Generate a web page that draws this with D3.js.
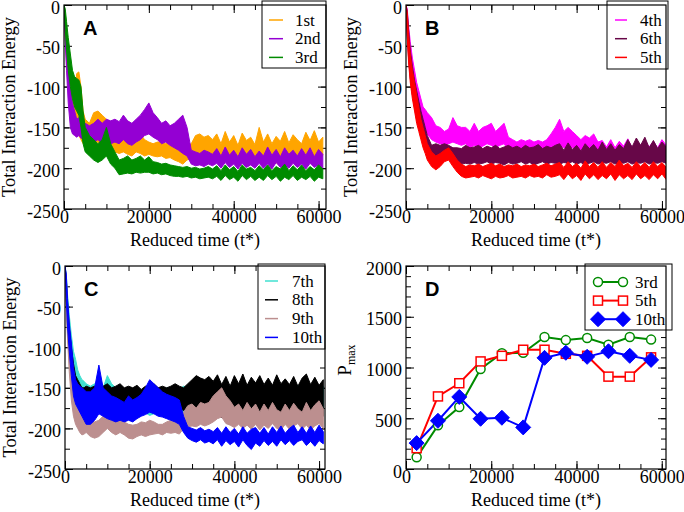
<!DOCTYPE html>
<html>
<head>
<meta charset="utf-8">
<script src="https://cdn.jsdelivr.net/npm/d3@7"></script>
<style>
  body { margin: 0; background: #fff; }
  svg { display: block; }
  .serif { font-family: "Liberation Serif", "DejaVu Serif", serif; }
  .sans { font-family: "Liberation Sans", Arial, sans-serif; }
</style>
</head>
<body>
<svg id="chart" width="684" height="512"></svg>
<script>
// time grid shared by the energy traces (reduced time t*)
const tGrid = [0, 300, 600, 1000, 1500, 2000, 2500, 3000, 3500, 4000, 4500, 5000,
  6000, 7000, 8000, 9000, 10000, 11000, 12000, 13000, 14000, 15000,
  16000, 17000, 18000, 19000, 20000, 21000, 22000, 23000, 24000, 25000,
  26000, 27000, 28000, 29000, 30000, 31000, 32000, 33000, 34000, 35000,
  36000, 37000, 38000, 39000, 40000, 41000, 42000, 43000, 44000, 45000,
  46000, 47000, 48000, 49000, 50000, 51000, 52000, 53000, 54000, 55000,
  56000, 57000, 58000, 59000, 60000, 61000];

// panel A: lower / upper envelope of each noisy trace
const lo1st = [-4,-40,-70,-100,-125,-140,-150,-155,-160,-165,-170,-172,
  -175,-170,-168,-172,-175,-178,-180,-182,-180,-183,
  -185,-180,-182,-185,-183,-185,-186,-185,-188,-187,
  -190,-192,-195,-190,-188,-185,-183,-188,-185,-188,
  -182,-193,-180,-190,-186,-194,-181,-191,-185,-189,
  -192,-183,-190,-181,-194,-186,-191,-183,-192,-185,
  -190,-182,-193,-185,-191,-184];
const hi1st = [0,-10,-35,-60,-85,-100,-105,-84,-82,-100,-130,-140,
  -145,-132,-130,-135,-140,-150,-155,-160,-158,-162,
  -165,-160,-158,-165,-168,-170,-168,-168,-170,-168,
  -170,-172,-175,-172,-170,-160,-158,-162,-160,-165,
  -158,-170,-155,-168,-160,-172,-157,-166,-162,-171,
  -150,-168,-158,-170,-161,-167,-155,-169,-159,-165,
  -170,-156,-166,-154,-168,-162];
const lo2nd = [-4,-45,-80,-120,-150,-158,-160,-162,-160,-163,-165,-168,
  -170,-168,-165,-170,-172,-170,-168,-170,-165,-170,
  -172,-168,-165,-160,-158,-162,-165,-170,-168,-172,
  -175,-178,-182,-185,-195,-197,-196,-198,-195,-197,
  -194,-200,-193,-199,-195,-201,-194,-199,-196,-200,
  -194,-200,-195,-201,-193,-199,-196,-200,-194,-199,
  -195,-201,-194,-199,-196,-200];
const hi2nd = [0,-15,-40,-70,-100,-120,-130,-140,-138,-140,-142,-145,
  -148,-145,-140,-145,-140,-142,-140,-143,-135,-142,
  -145,-140,-135,-128,-120,-132,-138,-145,-142,-148,
  -145,-140,-135,-150,-178,-180,-182,-178,-180,-183,
  -176,-185,-174,-184,-178,-186,-175,-183,-177,-186,
  -179,-185,-174,-184,-177,-186,-175,-183,-178,-185,
  -176,-184,-175,-186,-177,-183];
const lo3rd = [-4,-30,-55,-80,-100,-115,-125,-130,-135,-150,-170,-180,
  -185,-190,-193,-190,-185,-195,-200,-208,-207,-206,
  -207,-205,-206,-205,-205,-207,-206,-208,-207,-209,
  -210,-210,-211,-210,-212,-211,-213,-212,-211,-213,
  -210,-215,-209,-214,-211,-216,-209,-214,-210,-215,
  -211,-215,-209,-214,-210,-216,-211,-214,-209,-215,
  -211,-214,-210,-216,-211,-213];
const hi3rd = [0,-5,-20,-40,-60,-80,-88,-90,-92,-100,-130,-150,
  -160,-165,-170,-165,-150,-170,-180,-190,-188,-185,
  -190,-188,-185,-190,-186,-192,-193,-195,-194,-196,
  -197,-198,-199,-198,-200,-199,-201,-200,-198,-201,
  -197,-203,-196,-202,-198,-204,-196,-201,-199,-203,
  -197,-202,-196,-203,-198,-201,-195,-203,-197,-202,
  -196,-203,-198,-202,-196,-201];

// panel B
const lo4th = [-4,-35,-60,-80,-100,-115,-125,-135,-140,-148,-152,-158,
  -165,-168,-170,-172,-170,-168,-170,-172,-170,-175,
  -172,-175,-173,-170,-172,-175,-172,-170,-178,-178,
  -180,-178,-180,-179,-181,-180,-182,-178,-175,-172,
  -172,-175,-173,-175,-175,-178,-176,-178,-175,-180,
  -182,-180,-183,-181,-182,-184,-181,-183,-182,-180,
  -182,-181,-183,-180,-182,-181];
const hi4th = [0,-5,-25,-45,-65,-80,-95,-105,-115,-125,-128,-132,
  -138,-148,-150,-155,-152,-138,-148,-150,-150,-155,
  -145,-155,-150,-148,-145,-155,-150,-145,-162,-165,
  -168,-165,-167,-165,-168,-166,-168,-165,-158,-150,
  -140,-155,-150,-155,-160,-165,-160,-163,-158,-168,
  -166,-174,-165,-175,-167,-173,-164,-175,-168,-172,
  -166,-174,-167,-175,-165,-172];
const lo6th = [-4,-38,-65,-90,-110,-125,-140,-150,-160,-168,-175,-185,
  -195,-190,-188,-185,-188,-190,-193,-195,-194,-195,
  -193,-195,-194,-192,-195,-193,-194,-196,-193,-195,
  -194,-192,-195,-193,-196,-194,-192,-195,-193,-194,
  -195,-193,-194,-192,-195,-193,-196,-194,-192,-195,
  -193,-194,-192,-195,-193,-194,-192,-195,-193,-194,
  -192,-195,-193,-194,-192,-194];
const hi6th = [0,-8,-30,-55,-75,-92,-105,-118,-130,-140,-150,-160,
  -172,-170,-172,-170,-172,-175,-175,-176,-172,-175,
  -174,-172,-176,-173,-175,-172,-176,-174,-172,-175,
  -173,-176,-172,-175,-174,-171,-176,-173,-175,-172,
  -170,-178,-169,-177,-172,-179,-170,-176,-171,-178,
  -168,-177,-170,-178,-171,-176,-165,-174,-163,-172,
  -162,-175,-166,-176,-168,-174];
const lo5th = [-4,-40,-70,-95,-115,-130,-145,-155,-165,-175,-182,-190,
  -198,-202,-198,-192,-190,-198,-205,-210,-212,-211,
  -210,-212,-209,-211,-213,-210,-212,-211,-209,-212,
  -211,-210,-212,-209,-211,-210,-212,-208,-211,-210,
  -208,-214,-207,-213,-209,-215,-207,-213,-208,-214,
  -209,-213,-207,-215,-208,-213,-209,-214,-207,-213,
  -209,-214,-208,-213,-207,-214];
const hi5th = [0,-10,-35,-60,-80,-95,-110,-125,-140,-150,-160,-170,
  -180,-185,-182,-178,-175,-182,-190,-195,-198,-196,
  -197,-195,-198,-196,-194,-197,-195,-198,-196,-197,
  -195,-198,-196,-197,-195,-198,-196,-194,-197,-195,
  -193,-199,-192,-198,-194,-200,-191,-198,-193,-199,
  -192,-199,-193,-198,-190,-197,-194,-199,-192,-198,
  -193,-199,-192,-198,-193,-199];

// panel C
const lo7th = [-4,-40,-70,-100,-125,-140,-150,-160,-165,-170,-172,-175,
  -175,-172,-175,-178,-175,-178,-180,-180,-182,-180,
  -182,-180,-183,-181,-184,-182,-180,-183,-181,-182,
  -183,-181,-182,-184,-182,-183,-181,-184,-182,-183,
  -182,-184,-181,-183,-182,-184,-181,-183,-182,-184,
  -183,-181,-184,-182,-183,-181,-184,-182,-183,-181,
  -184,-182,-183,-181,-184,-182];
const hi7th = [0,-10,-35,-60,-85,-105,-115,-128,-135,-140,-142,-145,
  -148,-145,-148,-150,-135,-145,-150,-155,-152,-150,
  -152,-150,-153,-150,-148,-152,-150,-153,-150,-152,
  -150,-152,-148,-150,-146,-148,-145,-148,-146,-150,
  -147,-150,-146,-148,-150,-146,-149,-147,-150,-146,
  -148,-150,-146,-149,-147,-150,-146,-148,-150,-147,
  -149,-146,-150,-147,-149,-148];
const lo8th = [-4,-45,-80,-110,-135,-150,-160,-170,-175,-178,-180,-180,
  -180,-178,-180,-178,-180,-182,-180,-178,-180,-178,
  -180,-177,-179,-176,-178,-175,-175,-172,-175,-173,
  -172,-175,-178,-180,-182,-180,-182,-184,-181,-183,
  -180,-187,-179,-186,-181,-188,-180,-185,-182,-187,
  -179,-186,-181,-188,-180,-185,-182,-187,-179,-186,
  -181,-188,-180,-186,-182,-185];
const hi8th = [0,-15,-45,-75,-100,-120,-135,-140,-145,-150,-150,-148,
  -150,-148,-150,-148,-145,-150,-148,-145,-150,-148,
  -150,-147,-152,-148,-150,-145,-150,-148,-150,-148,
  -145,-148,-150,-145,-140,-135,-138,-140,-136,-142,
  -134,-146,-136,-148,-135,-145,-133,-147,-137,-144,
  -135,-146,-138,-147,-134,-145,-139,-146,-136,-148,
  -138,-133,-146,-137,-147,-140];
const lo9th = [-4,-50,-90,-130,-165,-185,-195,-200,-205,-208,-207,-205,
  -210,-212,-210,-205,-200,-205,-208,-205,-208,-212,
  -213,-210,-208,-210,-208,-207,-206,-208,-205,-206,
  -205,-207,-200,-198,-197,-198,-195,-197,-195,-192,
  -188,-186,-194,-196,-199,-195,-200,-196,-201,-195,
  -202,-196,-200,-194,-200,-202,-195,-201,-197,-194,
  -201,-196,-202,-197,-194,-200];
const hi9th = [0,-15,-50,-90,-130,-150,-170,-175,-180,-185,-185,-185,
  -190,-192,-190,-185,-182,-188,-190,-190,-192,-195,
  -196,-195,-192,-193,-190,-192,-195,-195,-192,-190,
  -192,-195,-180,-172,-170,-175,-168,-170,-168,-160,
  -155,-150,-160,-166,-174,-170,-178,-168,-176,-170,
  -180,-170,-178,-168,-177,-180,-170,-178,-169,-176,
  -180,-168,-178,-171,-166,-176];
const lo10th = [-4,-40,-75,-105,-135,-160,-170,-175,-180,-185,-190,-195,
  -195,-190,-182,-185,-188,-190,-192,-190,-192,-190,
  -192,-188,-185,-183,-180,-182,-185,-186,-188,-190,
  -192,-195,-205,-212,-215,-217,-214,-218,-216,-219,
  -214,-222,-215,-220,-216,-223,-214,-221,-226,-218,
  -222,-215,-221,-216,-222,-214,-220,-215,-221,-216,
  -214,-221,-216,-222,-215,-219];
const hi10th = [0,-10,-40,-70,-95,-125,-140,-145,-148,-150,-152,-155,
  -155,-150,-122,-150,-155,-160,-162,-165,-168,-160,
  -165,-162,-158,-150,-140,-145,-150,-155,-158,-160,
  -162,-165,-185,-198,-200,-202,-199,-203,-201,-204,
  -199,-206,-198,-205,-200,-207,-198,-206,-201,-199,
  -206,-199,-207,-198,-205,-197,-206,-200,-196,-205,
  -198,-206,-197,-205,-196,-204];

// panel D: P_max sampled every 5000 t*
const dTimes = [2500, 7500, 12500, 17500, 22500, 27500, 32500, 37500, 42500, 47500, 52500, 57500];
const pmax3rd = [115, 430, 610, 985, 1140, 1145, 1300, 1270, 1290, 1225, 1300, 1275];
const pmax5th = [205, 715, 845, 1060, 1115, 1175, 1175, 1135, 1115, 910, 910, 1100];
const pmax10th = [255, 475, 710, 495, 505, 410, 1095, 1145, 1105, 1160, 1115, 1075];

const svg = d3.select("#chart");
const plainNum = d => String(d);  // keep ascii hyphen like the original

function trace(lo, hi) {
    return tGrid.map((t, i) => ({ t: t, lo: lo[i], hi: hi[i] }));
}

/**
 * Sets up scales, axes and frame for one panel
 */
function makePanel(p) {
    const x = d3.scaleLinear().domain([0, p.xMax]).range([p.left, p.right]);
    const y = d3.scaleLinear().domain(p.yDomain).range([p.bottom, p.top]);
    const g = svg.append("g");

    const styleText = sel => sel.attr("font-family", null).attr("font-size", null)
        .selectAll("text").attr("class", "serif").style("font-size", "18px").attr("fill", "#000");

    // minor ticks on all four sides
    const minorX = d3.range(0, p.xMax + 1, p.xMinor);
    const minorY = d3.range(p.yDomain[0], p.yDomain[1] + 1, p.yMinor);
    [[d3.axisBottom(x), p.bottom], [d3.axisTop(x), p.top]].forEach(([ax, ty]) => {
        g.append("g").attr("transform", `translate(0,${ty})`)
            .call(ax.tickValues(minorX).tickSize(-5).tickFormat(""))
            .call(s => s.select(".domain").remove());
    });
    [[d3.axisLeft(y), p.left], [d3.axisRight(y), p.right]].forEach(([ax, tx]) => {
        g.append("g").attr("transform", `translate(${tx},0)`)
            .call(ax.tickValues(minorY).tickSize(-5).tickFormat(""))
            .call(s => s.select(".domain").remove());
    });

    // major ticks, labels only bottom/left
    g.append("g").attr("transform", `translate(0,${p.bottom})`)
        .call(d3.axisBottom(x).tickValues(p.xTicks).tickSize(-8).tickPadding(1.5).tickFormat(plainNum))
        .call(s => s.select(".domain").remove())
        .call(styleText);
    g.append("g").attr("transform", `translate(0,${p.top})`)
        .call(d3.axisTop(x).tickValues(p.xTicks).tickSize(-8).tickFormat(""))
        .call(s => s.select(".domain").remove());
    g.append("g").attr("transform", `translate(${p.left},0)`)
        .call(d3.axisLeft(y).tickValues(p.yTicks).tickSize(-8).tickPadding(4).tickFormat(plainNum))
        .call(s => s.select(".domain").remove())
        .call(styleText)
        .call(s => s.selectAll("text").attr("dy", "0.45em"));
    g.append("g").attr("transform", `translate(${p.right},0)`)
        .call(d3.axisRight(y).tickValues(p.yTicks).tickSize(-8).tickFormat(""))
        .call(s => s.select(".domain").remove());
    g.selectAll(".tick line").attr("stroke", "#000").attr("stroke-width", 1);

    const clipId = "clip_" + p.name;
    svg.append("clipPath").attr("id", clipId).append("rect")
        .attr("x", p.left).attr("y", p.top)
        .attr("width", p.right - p.left).attr("height", p.bottom - p.top);
    const plot = svg.append("g").attr("clip-path", `url(#${clipId})`);

    // frame drawn last, on top
    const frame = () => svg.append("rect")
        .attr("x", p.left).attr("y", p.top)
        .attr("width", p.right - p.left).attr("height", p.bottom - p.top)
        .attr("fill", "none").attr("stroke", "#000").attr("stroke-width", 1.2);

    // axis title
    svg.append("text")
        .attr("class", "serif")
        .attr("x", (p.left + p.right) / 2).attr("y", p.bottom + 37)
        .attr("text-anchor", "middle")
        .style("font-size", "18px")
        .text("Reduced time (t*)");

    svg.append("text")
        .attr("class", "sans")
        .attr("x", p.left + 19).attr("y", p.top + 30)
        .style("font-weight", "bold").style("font-size", "20px")
        .text(p.name);

    return { x, y, plot, frame };
}

function energyPanel(p, series, legend) {
    const P = makePanel(p);
    const area = d3.area()
        .x(d => P.x(d.t)).y0(d => P.y(d.lo)).y1(d => P.y(d.hi));
    series.forEach(s => {
        P.plot.append("path")
            .datum(trace(s.lo, s.hi))
            .attr("d", area)
            .attr("fill", s.color)
            .attr("stroke", s.color)
            .attr("stroke-width", 1)
            .attr("stroke-linejoin", "miter");
    });

    svg.append("text")
        .attr("class", "serif")
        .attr("transform", `translate(${p.left - 49},${(p.top + p.bottom) / 2}) rotate(-90)`)
        .attr("text-anchor", "middle")
        .style("font-size", "18.5px")
        .text("Total Interaction Energy");

    drawLegend(legend, series, false);
    P.frame();
}

function drawLegend(L, series, markers) {
    svg.append("rect")
        .attr("x", L.x0).attr("y", L.y0)
        .attr("width", L.x1 - L.x0).attr("height", L.y1 - L.y0)
        .attr("fill", "#fff").attr("stroke", "#000").attr("stroke-width", 1);
    series.forEach((s, i) => {
        const by = L.base + i * L.step;
        const cy = by - 5.5;
        svg.append("line")
            .attr("x1", L.lx0).attr("x2", L.lx1).attr("y1", cy).attr("y2", cy)
            .attr("stroke", s.color).attr("stroke-width", markers ? 2 : 1.5);
        if (markers) {
            drawMarker(s, L.lx0, cy);
            drawMarker(s, L.lx1, cy);
        }
        svg.append("text")
            .attr("class", "serif")
            .attr("x", L.tx).attr("y", by)
            .style("font-size", "17px")
            .text(s.label);
    });
}

function drawMarker(s, cx, cy) {
    if (s.shape === "circle") {
        svg.append("circle").attr("cx", cx).attr("cy", cy).attr("r", 4.5)
            .attr("fill", "#fff").attr("stroke", s.color).attr("stroke-width", 1.5);
    } else if (s.shape === "square") {
        svg.append("rect").attr("x", cx - 4.5).attr("y", cy - 4.5).attr("width", 9).attr("height", 9)
            .attr("fill", "#fff").attr("stroke", s.color).attr("stroke-width", 1.5);
    } else {
        svg.append("path")
            .attr("d", `M${cx},${cy - 7.5}L${cx + 7.5},${cy}L${cx},${cy + 7.5}L${cx - 7.5},${cy}Z`)
            .attr("fill", s.color).attr("stroke", s.color);
    }
}

const energyAxes = { yDomain: [-250, 0], yTicks: [-250, -200, -150, -100, -50, 0], yMinor: 25,
    xTicks: [0, 20000, 40000, 60000], xMinor: 5000 };

energyPanel(
    Object.assign({ name: "A", left: 64, right: 326, top: 5, bottom: 209, xMax: 61750 }, energyAxes),
    [
        { label: "1st", color: "#ffa500", lo: lo1st, hi: hi1st },
        { label: "2nd", color: "#9400d3", lo: lo2nd, hi: hi2nd },
        { label: "3rd", color: "#008b00", lo: lo3rd, hi: hi3rd }
    ],
    { x0: 262, x1: 326, y0: 1, y1: 68, lx0: 269, lx1: 283, tx: 295, base: 25.5, step: 18.7 }
);

energyPanel(
    Object.assign({ name: "B", left: 406, right: 666, top: 5, bottom: 209, xMax: 60950 }, energyAxes),
    [
        { label: "4th", color: "#ff00ff", lo: lo4th, hi: hi4th },
        { label: "6th", color: "#670748", lo: lo6th, hi: hi6th },
        { label: "5th", color: "#ff0000", lo: lo5th, hi: hi5th }
    ],
    { x0: 607, x1: 668, y0: 1, y1: 69, lx0: 615, lx1: 627, tx: 640, base: 25.5, step: 18.7 }
);

energyPanel(
    Object.assign({ name: "C", left: 65, right: 325, top: 266, bottom: 469, xMax: 61400 }, energyAxes),
    [
        { label: "7th", color: "#40e0d0", lo: lo7th, hi: hi7th },
        { label: "8th", color: "#000000", lo: lo8th, hi: hi8th },
        { label: "9th", color: "#bc8f8f", lo: lo9th, hi: hi9th },
        { label: "10th", color: "#0000ff", lo: lo10th, hi: hi10th }
    ],
    { x0: 258, x1: 325, y0: 264, y1: 349, lx0: 265, lx1: 278, tx: 292, base: 286.5, step: 18.8 }
);

// panel D
(function () {
    const p = { name: "D", left: 406, right: 666, top: 266, bottom: 469, xMax: 61000,
        yDomain: [0, 2000], yTicks: [0, 500, 1000, 1500, 2000], yMinor: 100,
        xTicks: [0, 20000, 40000, 60000], xMinor: 5000 };
    const P = makePanel(p);
    const series = [
        { label: "3rd", color: "#008b00", shape: "circle", values: pmax3rd },
        { label: "5th", color: "#ff0000", shape: "square", values: pmax5th },
        { label: "10th", color: "#0000ff", shape: "diamond", values: pmax10th }
    ];
    const line = d3.line().x((d, i) => P.x(dTimes[i])).y(d => P.y(d));
    series.forEach(s => {
        P.plot.append("path").datum(s.values).attr("d", line)
            .attr("fill", "none").attr("stroke", s.color).attr("stroke-width", 2);
    });
    series.forEach(s => {
        s.values.forEach((v, i) => drawMarker(s, P.x(dTimes[i]), P.y(v)));
    });

    const yl = svg.append("text")
        .attr("class", "serif")
        .attr("transform", `translate(351,360) rotate(-90)`)
        .attr("text-anchor", "middle")
        .style("font-size", "19px");
    yl.append("tspan").text("P");
    yl.append("tspan").style("font-size", "12px").attr("dy", 4).text("max");

    drawLegend({ x0: 585, x1: 672, y0: 264, y1: 330, lx0: 598, lx1: 623, tx: 635, base: 287.5, step: 18.6 },
        series, true);
    P.frame();
})();
</script>
</body>
</html>
